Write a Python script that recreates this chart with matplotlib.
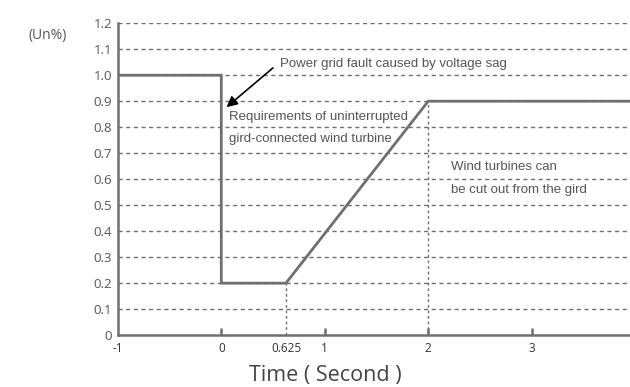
import matplotlib.pyplot as plt

# Voltage ride-through curve
time_pts = [-1, 0, 0, 0.625, 2, 3.95]
volt_pts = [1.0, 1.0, 0.2, 0.2, 0.9, 0.9]

y_ticks = [0, 0.1, 0.2, 0.3, 0.4, 0.5, 0.6, 0.7, 0.8, 0.9, 1.0, 1.1, 1.2]
y_labels = ["0", "0.1", "0.2", "0.3", "0.4", "0.5", "0.6", "0.7", "0.8", "0.9", "1.0", "1.1", "1.2"]
x_ticks = [-1, 0, 0.625, 1, 2, 3]
x_labels = ["-1", "0", "0.625", "1", "2", "3"]

gray = "#6f6f6f"
text_gray = "#555555"

fig = plt.figure(figsize=(6.3, 3.87), dpi=100)
ax = fig.add_axes([0.187, 0.134, 0.813, 0.806])

# dashed horizontal grid
for y in y_ticks[1:]:
    ax.axhline(y, color=gray, lw=1, ls=(0, (3, 2.5)), zorder=1)

# dotted vertical guides
ax.plot([0.625, 0.625], [0, 0.2], color=gray, lw=1, ls=(0, (2, 2)), zorder=1)
ax.plot([2, 2], [0, 0.9], color=gray, lw=1, ls=(0, (2, 2)), zorder=1)

ax.plot(time_pts, volt_pts, color=gray, lw=2, zorder=3, solid_joinstyle="miter")

ax.set_xlim(-1, 3.95)
ax.set_ylim(0, 1.2)
ax.set_yticks(y_ticks)
ax.set_yticklabels(y_labels)
ax.set_xticks(x_ticks)
ax.set_xticklabels(x_labels)

for s in ["top", "right"]:
    ax.spines[s].set_visible(False)
for s in ["left", "bottom"]:
    ax.spines[s].set_color(gray)
    ax.spines[s].set_linewidth(1.8)

ax.tick_params(axis="y", length=0, pad=4, labelsize=9.5, labelcolor=text_gray)
ax.tick_params(axis="x", direction="in", length=5, width=1.8, color=gray,
               pad=5, labelsize=8.5, labelcolor="#333333")
ax.xaxis.get_ticklines()[0].set_visible(False)
ax.xaxis.get_ticklines()[4].set_visible(False)
for lab in ax.get_xticklabels() + ax.get_yticklabels():
    lab.set_family("Open Sans")

ax.annotate("", xy=(0.03, 0.87), xytext=(0.52, 1.035),
            arrowprops=dict(arrowstyle="-|>", color="black", lw=1.2, mutation_scale=16))
ax.text(0.57, 1.045, "Power grid fault caused by voltage sag", fontsize=9.5,
        family="Liberation Sans", color=text_gray, va="center")
ax.text(0.07, 0.84, "Requirements of uninterrupted", fontsize=9.5,
        family="Liberation Sans", color=text_gray, va="center")
ax.text(0.07, 0.755, "gird-connected wind turbine", fontsize=9.5,
        family="Liberation Sans", color=text_gray, va="center")
ax.text(2.22, 0.645, "Wind turbines can", fontsize=9.5,
        family="Liberation Sans", color=text_gray, va="center")
ax.text(2.22, 0.558, "be cut out from the gird", fontsize=9.5,
        family="Liberation Sans", color=text_gray, va="center")

fig.text(0.075, 0.908, "(Un%)", fontsize=10, family="Open Sans", color=text_gray, ha="center", va="center")
fig.text(0.517, 0.03, "Time ( Second )", fontsize=15.5, family="Open Sans", color="#444444",
         ha="center", va="center")

fig.savefig("out.png", dpi=100)
